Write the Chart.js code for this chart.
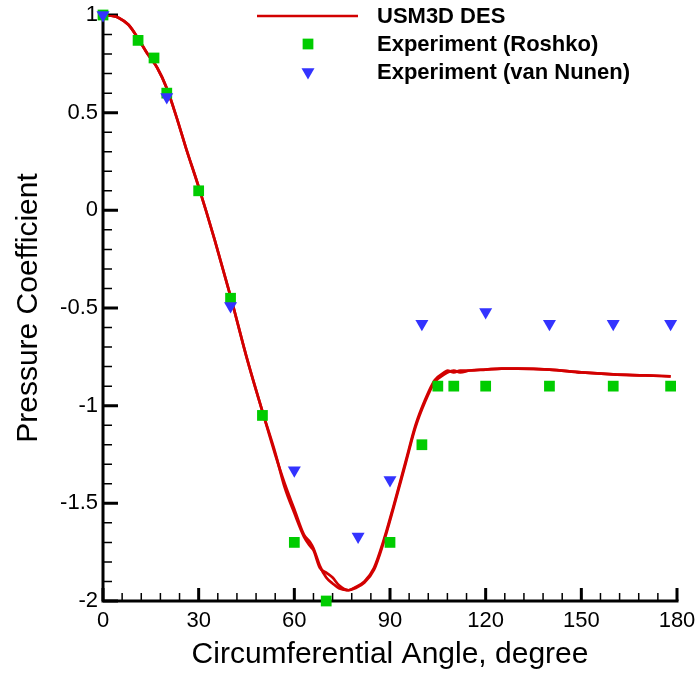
<!DOCTYPE html>
<html>
<head>
<meta charset="utf-8">
<script src="https://cdn.jsdelivr.net/npm/chart.js@4.4.1/dist/chart.umd.min.js"></script>
<style>
  html, body { margin: 0; padding: 0; background: #ffffff; }
  #wrap { width: 696px; height: 679px; }
</style>
</head>
<body>
<div id="wrap"><canvas id="meuGrafico" width="696" height="679"></canvas></div>
<script>
// USM3D DES (two averaging windows, nearly on top of each other)
const angleDes = [0, 3, 5, 8, 11, 14, 17, 20, 23, 26, 30, 35, 40, 45, 50, 54, 57, 60, 63, 65, 66, 68, 70, 72, 74, 77, 79, 82, 85, 88, 91, 95, 98, 101, 104, 107, 108, 110, 112, 115, 120, 125, 130, 140, 150, 160, 170, 178];
const cpDesA = [1.0, 0.995, 0.985, 0.95, 0.88, 0.80, 0.73, 0.625, 0.48, 0.32, 0.12, -0.15, -0.44, -0.75, -1.03, -1.24, -1.42, -1.55, -1.67, -1.72, -1.74, -1.83, -1.855, -1.88, -1.92, -1.945, -1.935, -1.905, -1.84, -1.70, -1.53, -1.29, -1.11, -0.98, -0.88, -0.84, -0.83, -0.82, -0.83, -0.82, -0.815, -0.81, -0.81, -0.815, -0.83, -0.84, -0.845, -0.85];
const cpDesB = [1.0, 0.995, 0.985, 0.95, 0.88, 0.80, 0.73, 0.625, 0.48, 0.32, 0.12, -0.15, -0.44, -0.75, -1.03, -1.25, -1.40, -1.53, -1.66, -1.70, -1.73, -1.82, -1.88, -1.91, -1.935, -1.945, -1.93, -1.90, -1.83, -1.69, -1.52, -1.28, -1.10, -0.97, -0.87, -0.83, -0.82, -0.83, -0.82, -0.82, -0.815, -0.81, -0.81, -0.815, -0.83, -0.84, -0.845, -0.85];

// Experiment (Roshko)
const angleRoshko = [0, 11, 16, 20, 30, 40, 50, 60, 70, 90, 100, 105, 110, 120, 140, 160, 178];
const cpRoshko = [1.0, 0.87, 0.78, 0.60, 0.10, -0.45, -1.05, -1.70, -2.0, -1.70, -1.20, -0.90, -0.90, -0.90, -0.90, -0.90, -0.90];

// Experiment (van Nunen)
const angleNunen = [0, 20, 40, 60, 80, 90, 100, 120, 140, 160, 178];
const cpNunen = [1.0, 0.58, -0.49, -1.33, -1.67, -1.38, -0.58, -0.52, -0.58, -0.58, -0.58];

// ticks
const xTicks = [0, 30, 60, 90, 120, 150, 180];
const yTicks = [1, 0.5, 0, -0.5, -1, -1.5, -2];
const xMinorStep = 6;
const yMinorStep = 0.1;

function pares(xs, ys) {
    var out = [];
    for (var i = 0; i < xs.length; i++) {
        out.push({ x: xs[i], y: ys[i] });
    }
    return out;
}

// axis lines + inward ticks, drawn under the markers
const eixos = {
    id: 'eixos',
    beforeDatasetsDraw(chart) {
        const ctx = chart.ctx;
        const xs = chart.scales.x;
        const ys = chart.scales.y;
        const a = chart.chartArea;
        ctx.save();
        ctx.strokeStyle = '#000000';
        ctx.lineCap = 'butt';

        // minor ticks
        ctx.lineWidth = 1.5;
        ctx.beginPath();
        for (var v = xs.min; v <= xs.max + 0.001; v += xMinorStep) {
            var px = xs.getPixelForValue(v);
            ctx.moveTo(px, a.bottom);
            ctx.lineTo(px, a.bottom - 8);
        }
        for (var k = 0; k <= Math.round((ys.max - ys.min) / yMinorStep); k++) {
            var py = ys.getPixelForValue(ys.min + k * yMinorStep);
            ctx.moveTo(a.left, py);
            ctx.lineTo(a.left + 9, py);
        }
        ctx.stroke();

        // major ticks
        ctx.lineWidth = 3;
        ctx.beginPath();
        xTicks.forEach(function (t) {
            var px = xs.getPixelForValue(t);
            ctx.moveTo(px, a.bottom);
            ctx.lineTo(px, a.bottom - 13);
        });
        yTicks.forEach(function (t) {
            var py = ys.getPixelForValue(t);
            ctx.moveTo(a.left, py);
            ctx.lineTo(a.left + 15, py);
        });
        ctx.stroke();

        // left and bottom axis
        ctx.lineWidth = 3;
        ctx.beginPath();
        ctx.moveTo(a.left, a.top - 1.5);
        ctx.lineTo(a.left, a.bottom);
        ctx.lineTo(a.right + 1.5, a.bottom);
        ctx.stroke();
        ctx.restore();
    }
};

// legend in the upper right, inside the plot
const legenda = {
    id: 'legenda',
    afterDraw(chart) {
        const ctx = chart.ctx;
        const ds = chart.data.datasets;
        const itens = [ds[0], ds[2], ds[3]];
        const linhas = [16, 44, 72];
        const amostraX = 308;
        const textoX = 377;
        ctx.save();
        ctx.font = 'bold 22px "Liberation Sans", Arial, sans-serif';
        ctx.textBaseline = 'middle';
        ctx.textAlign = 'left';
        itens.forEach(function (d, i) {
            var y = linhas[i];
            if (d.showLine) {
                ctx.strokeStyle = d.borderColor;
                ctx.lineWidth = d.borderWidth;
                ctx.beginPath();
                ctx.moveTo(257, y);
                ctx.lineTo(358, y);
                ctx.stroke();
            } else {
                ctx.fillStyle = d.pointBackgroundColor;
                Chart.helpers.drawPoint(ctx, {
                    pointStyle: d.pointStyle,
                    rotation: d.pointRotation || 0,
                    radius: d.pointRadius,
                    borderWidth: 0
                }, amostraX, y);
            }
            ctx.fillStyle = '#000000';
            ctx.fillText(d.label, textoX, y + 1);
        });
        ctx.restore();
    }
};

function AddGrafico() {
    const contexto = document.getElementById('meuGrafico').getContext('2d');
    const vermelho = '#d20000';
    const fonteTicks = { family: '"Liberation Sans", Arial, sans-serif', size: 22 };
    const fonteTitulo = { family: '"Liberation Sans", Arial, sans-serif', size: 30, lineHeight: 1.2 };

    const opcoes = {
        responsive: false,
        animation: false,
        layout: { padding: { top: 15, right: 19, left: 0, bottom: 0 } },
        plugins: {
            legend: { display: false },
            tooltip: { enabled: false }
        },
        scales: {
            x: {
                type: 'linear',
                min: 0,
                max: 180,
                afterFit: function (s) {
                    s.height = 78;
                    s.paddingLeft = 0;
                    s.paddingRight = 0;
                },
                afterBuildTicks: function (s) { s.ticks = xTicks.map(function (v) { return { value: v }; }); },
                grid: { display: false, drawTicks: false },
                border: { display: false },
                ticks: { color: '#000000', font: fonteTicks, padding: 7, maxRotation: 0 },
                title: {
                    display: true,
                    text: 'Circumferential Angle, degree',
                    color: '#000000',
                    font: fonteTitulo,
                    padding: { top: 0, bottom: 6 }
                }
            },
            y: {
                type: 'linear',
                min: -2,
                max: 1,
                afterFit: function (s) {
                    s.width = 103;
                    s.paddingTop = 0;
                    s.paddingBottom = 0;
                },
                afterBuildTicks: function (s) { s.ticks = yTicks.map(function (v) { return { value: v }; }); },
                grid: { display: false, drawTicks: false },
                border: { display: false },
                ticks: {
                    color: '#000000',
                    font: fonteTicks,
                    padding: 5,
                    callback: function (v) { return String(v); }
                },
                title: {
                    display: true,
                    text: 'Pressure Coefficient',
                    color: '#000000',
                    font: fonteTitulo,
                    padding: { top: 11, bottom: 0 }
                }
            }
        }
    };

    const meuGrafico = new Chart(contexto, {
        type: 'scatter',
        data: {
            datasets: [
                {
                    label: 'USM3D DES',
                    data: pares(angleDes, cpDesA),
                    showLine: true,
                    cubicInterpolationMode: 'monotone',
                    borderColor: vermelho,
                    borderWidth: 2.7,
                    pointRadius: 0,
                    fill: false,
                    order: 4
                },
                {
                    label: 'USM3D DES (2)',
                    data: pares(angleDes, cpDesB),
                    showLine: true,
                    cubicInterpolationMode: 'monotone',
                    borderColor: vermelho,
                    borderWidth: 2.7,
                    pointRadius: 0,
                    fill: false,
                    order: 3
                },
                {
                    label: 'Experiment (Roshko)',
                    data: pares(angleRoshko, cpRoshko),
                    pointStyle: 'rect',
                    pointRadius: 7.6,
                    pointBackgroundColor: '#00cc00',
                    pointBorderWidth: 0,
                    borderWidth: 0,
                    clip: false,
                    order: 2
                },
                {
                    label: 'Experiment (van Nunen)',
                    data: pares(angleNunen, cpNunen),
                    pointStyle: 'triangle',
                    pointRotation: 180,
                    pointRadius: 7.5,
                    pointBackgroundColor: '#3333ff',
                    pointBorderWidth: 0,
                    borderWidth: 0,
                    clip: false,
                    order: 1
                }
            ]
        },
        options: opcoes,
        plugins: [eixos, legenda]
    });
}

window.onload = AddGrafico;
</script>
</body>
</html>
